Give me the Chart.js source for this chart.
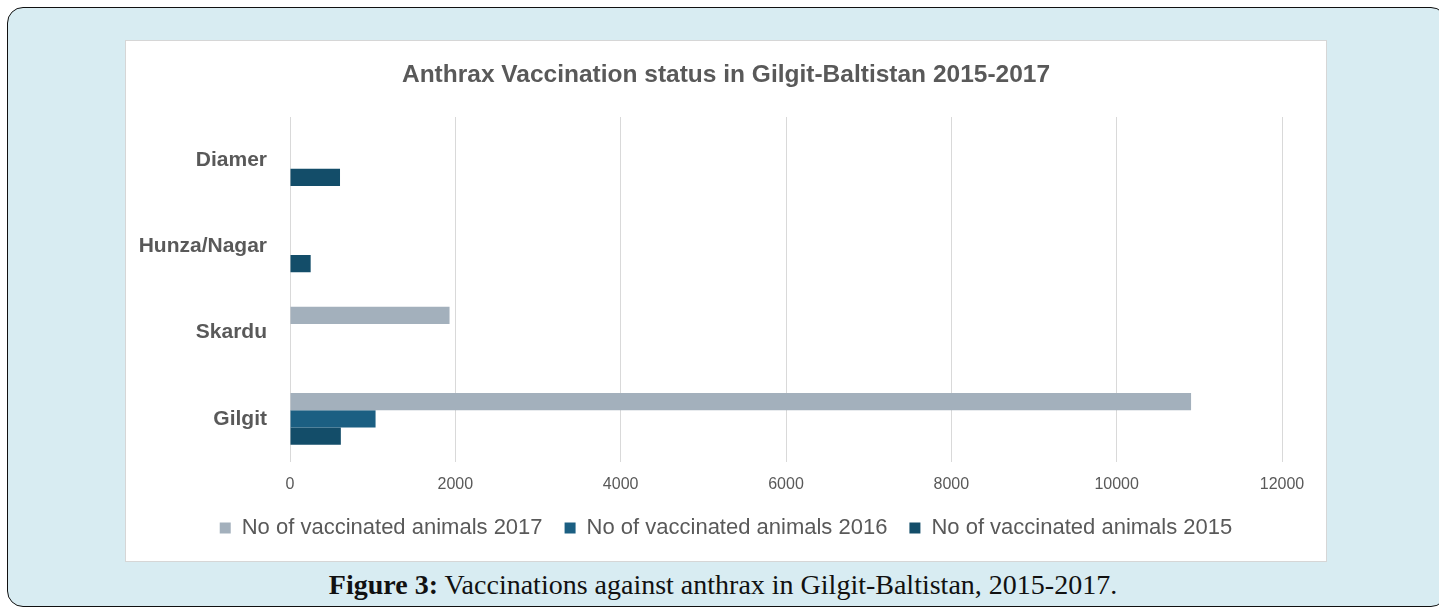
<!DOCTYPE html>
<html>
<head>
<meta charset="utf-8">
<script src="https://cdn.jsdelivr.net/npm/chart.js@4.4.1/dist/chart.umd.min.js"></script>
<style>
  html, body { margin: 0; padding: 0; background: #ffffff; }
  body { width: 1439px; height: 609px; position: relative; overflow: hidden; }
  #frame { position: absolute; left: 7px; top: 7px; width: 1440px; height: 600px;
    background: #d8ecf2; border: 1.5px solid #111; border-radius: 16px; box-sizing: border-box; }
  #panel { position: absolute; left: 125px; top: 40px; width: 1202px; height: 522px;
    background: #ffffff; border: 1px solid #d6d6d6; box-sizing: border-box; }
  #wrap { position: absolute; left: 126px; top: 41px; width: 1200px; height: 520px; }
  #caption { position: absolute; left: 0; width: 1446px; top: 569px; text-align: center;
    font-family: "Liberation Serif", "DejaVu Serif", serif; font-size: 28px; color: #111; line-height: 32px; }
</style>
</head>
<body>
<div id="frame"></div>
<div id="panel"></div>
<div id="caption"><b>Figure 3:</b> Vaccinations against anthrax in Gilgit-Baltistan, 2015-2017.</div>
<div id="wrap"><canvas id="c" width="1200" height="520"></canvas></div>
<script>
const titleText = 'Anthrax Vaccination status in Gilgit-Baltistan 2015-2017';
const categories = ['Diamer', 'Hunza/Nagar', 'Skardu', 'Gilgit'];
const seriesNames = ['No of vaccinated animals 2017', 'No of vaccinated animals 2016', 'No of vaccinated animals 2015'];
const values2017 = [0, 0, 1930, 10900];
const values2016 = [0, 0, 0, 1035];
const values2015 = [605, 250, 0, 615];
const xMin = 0, xMax = 12000, xStep = 2000;

const textColor = '#595959';
const fontFam = '"Liberation Sans", Arial, sans-serif';

new Chart(document.getElementById('c'), {
  type: 'bar',
  data: {
    labels: categories,
    datasets: [
      { label: seriesNames[0], data: values2017, backgroundColor: '#a3b0bc' },
      { label: seriesNames[1], data: values2016, backgroundColor: '#1b5f82' },
      { label: seriesNames[2], data: values2015, backgroundColor: '#134d69' }
    ]
  },
  options: {
    indexAxis: 'y',
    responsive: false,
    animation: false,
    devicePixelRatio: 1,
    layout: { padding: { left: 0, right: 0, top: 0, bottom: 12 } },
    datasets: { bar: { categoryPercentage: 0.6, barPercentage: 1.0, borderWidth: 0 } },
    scales: {
      x: {
        min: xMin, max: xMax,
        ticks: { stepSize: xStep, color: textColor, padding: 13,
          font: { family: fontFam, size: 16 }, callback: (v) => String(v) },
        grid: { color: '#d9d9d9', lineWidth: 1, drawTicks: false },
        border: { display: false },
        afterFit: (s) => { s.height = 33; }
      },
      y: {
        ticks: { color: textColor, padding: 23, font: { family: fontFam, size: 21, weight: 'bold' } },
        grid: { display: false, drawTicks: false },
        border: { display: false },
        afterFit: (s) => { s.width = 164; }
      },
      yRight: {
        type: 'category', position: 'right', display: true,
        ticks: { display: false },
        grid: { display: false, drawTicks: false },
        border: { display: false },
        afterFit: (s) => { s.width = 44; }
      }
    },
    plugins: {
      title: { display: true, text: titleText, color: textColor,
        font: { family: fontFam, size: 24.5, weight: 'bold' },
        padding: { top: 20, bottom: 26.6 } },
      legend: { position: 'bottom',
        labels: { boxWidth: 11, boxHeight: 11, padding: 22, color: textColor,
          font: { family: fontFam, size: 22 } } },
      tooltip: { enabled: false }
    }
  }
});
</script>
</body>
</html>
